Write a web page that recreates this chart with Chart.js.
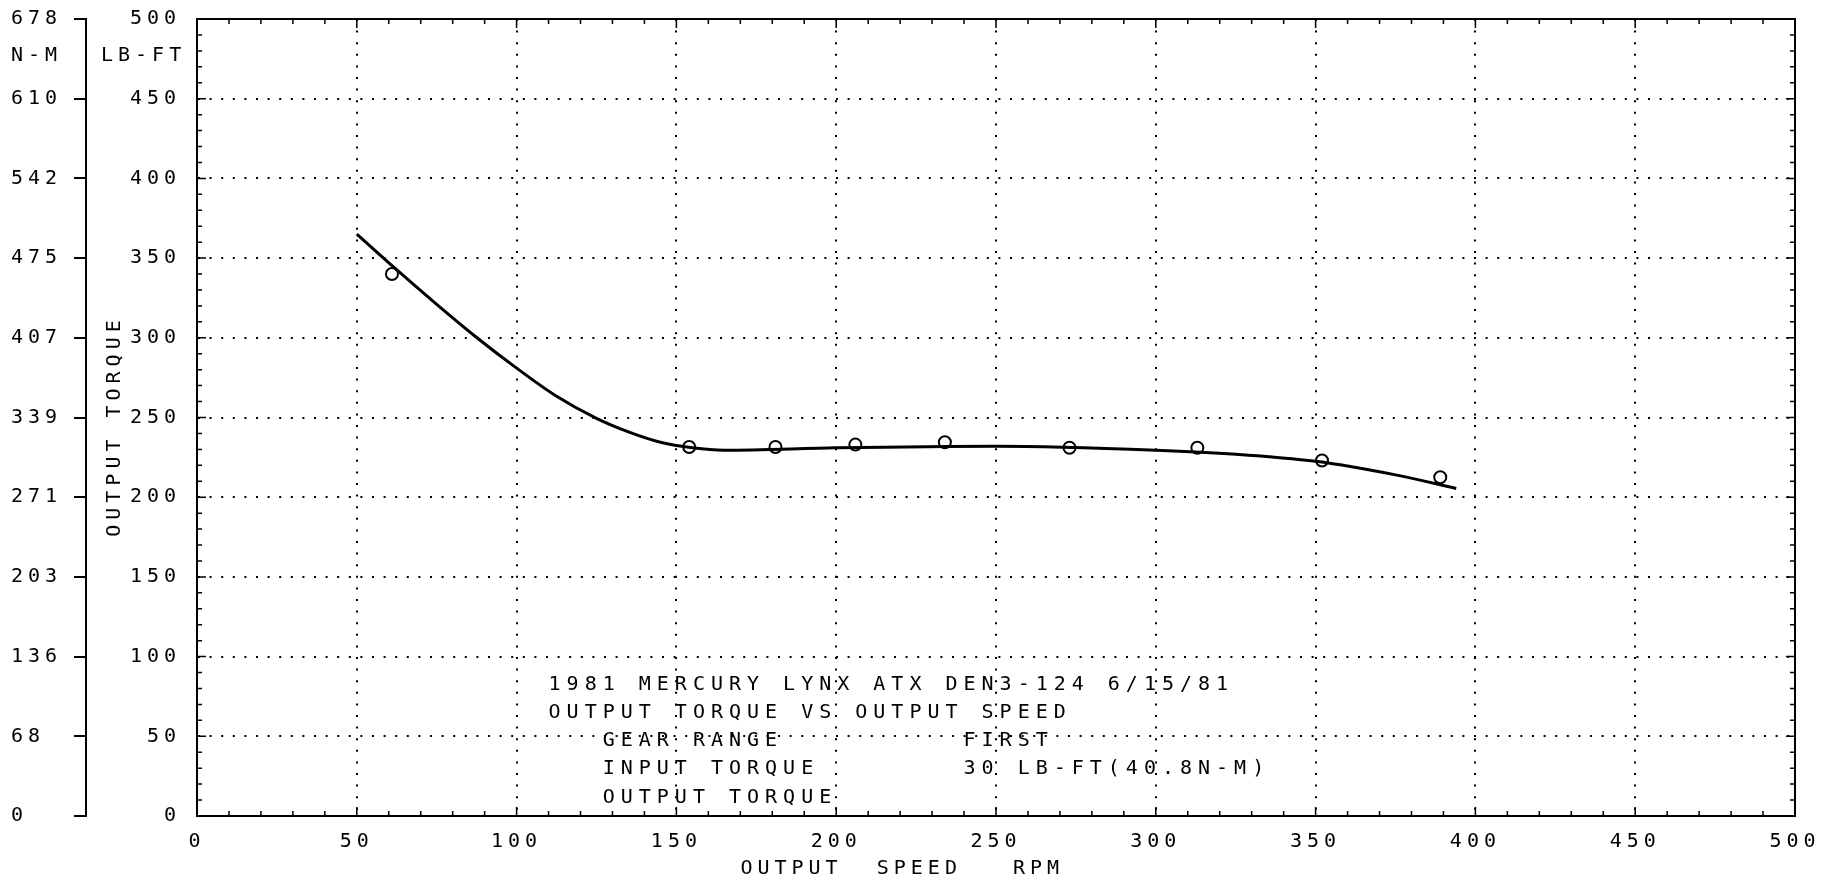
<!DOCTYPE html>
<html>
<head>
<meta charset="utf-8">
<title>Output torque vs output speed</title>
<script src="https://cdn.jsdelivr.net/npm/chart.js@4.4.1/dist/chart.umd.min.js"></script>
<style>
  html, body { margin: 0; padding: 0; background: #fff; }
  #wrap { width: 1837px; height: 883px; }
</style>
</head>
<body>
<div id="wrap"><canvas id="torqueChart" width="1837" height="883"></canvas></div>
<script>
// Measured points (output speed RPM, output torque LB-FT)
const speedRpm = [61, 154, 181, 206, 234, 273, 313, 352, 389];
const torqueLbFt = [340, 231.5, 231.5, 233, 234.5, 231, 231, 223, 212.5];

// Faired curve drawn through the points
const curveRpm = [50, 62, 75, 87, 100, 112, 125, 135, 145, 155, 165, 200, 250, 300, 325, 350, 375, 394];
const curveLbFt = [365, 343.5, 321, 301, 281, 264, 249.5, 241, 234.5, 231, 229.5, 231, 232, 229.5, 227, 222.5, 214, 205.5];

// Tick values / labels
const speedTicks = [0, 50, 100, 150, 200, 250, 300, 350, 400, 450, 500];
const lbFtTicks = [0, 50, 100, 150, 200, 250, 300, 350, 400, 450, 500];
const nmTickLabels = ["0", "68", "136", "203", "271", "339", "407", "475", "542", "610", "678"];

// Text block printed inside the plot
const noteLines = [
  "1981 MERCURY LYNX ATX DEN3-124 6/15/81",
  "OUTPUT TORQUE VS OUTPUT SPEED",
  "   GEAR RANGE          FIRST",
  "   INPUT TORQUE        30 LB-FT(40.8N-M)",
  "   OUTPUT TORQUE"
];

// Plotter style font
const plotFont = { family: '"DejaVu Sans Mono", monospace', size: 20 };

// Dotted grid only on the inner 50-unit lines
function gridColor(ctx) {
  if (!ctx.tick) return "rgba(0,0,0,0)";
  const v = ctx.tick.value;
  return v === 0 || v === 500 ? "rgba(0,0,0,0)" : "#000";
}

// Frame, inward minor ticks, unit captions and the note block
const plotterFrame = {
  id: "plotterFrame",
  beforeLayout(chart) {
    chart.ctx.letterSpacing = "5px";
  },
  beforeDraw(chart) {
    chart.ctx.letterSpacing = "5px";
  },
  afterDraw(chart) {
    const { ctx, chartArea: a, scales } = chart;
    const xs = scales.x;
    const ys = scales.y;
    ctx.save();
    ctx.strokeStyle = "#000";
    ctx.lineWidth = 2;
    ctx.strokeRect(a.left, a.top, a.right - a.left, a.bottom - a.top);

    // minor ticks every 10 units pointing into the plot
    ctx.beginPath();
    for (let v = 10; v < 500; v += 10) {
      const len = v % 50 === 0 ? 9 : 5;
      const px = xs.getPixelForValue(v);
      ctx.moveTo(px, a.bottom);
      ctx.lineTo(px, a.bottom - len);
      ctx.moveTo(px, a.top);
      ctx.lineTo(px, a.top + len);
      const py = ys.getPixelForValue(v);
      ctx.moveTo(a.left, py);
      ctx.lineTo(a.left + len, py);
      ctx.moveTo(a.right, py);
      ctx.lineTo(a.right - len, py);
    }
    ctx.lineWidth = 1.5;
    ctx.stroke();

    // unit captions under the top tick labels
    ctx.fillStyle = "#000";
    ctx.font = '20px "DejaVu Sans Mono", monospace';
    ctx.textBaseline = "middle";
    ctx.textAlign = "left";
    ctx.letterSpacing = "5px";
    const unitY = ys.getPixelForValue(500) + 37;
    ctx.fillText("N-M", scales.y2.left, unitY);
    ctx.fillText("LB-FT", ys.left + 15, unitY);

    // note block
    ctx.letterSpacing = "6px";
    const nx = xs.getPixelForValue(110);
    const ny = ys.getPixelForValue(82.2);
    noteLines.forEach((line, i) => ctx.fillText(line, nx, ny + i * 28.1));
    ctx.restore();
  }
};

new Chart(document.getElementById("torqueChart"), {
  type: "scatter",
  data: {
    datasets: [
      {
        label: "Faired curve",
        data: curveRpm.map((v, i) => ({ x: v, y: curveLbFt[i] })),
        showLine: true,
        borderColor: "#000",
        borderWidth: 3,
        pointRadius: 0,
        cubicInterpolationMode: "monotone",
        fill: false
      },
      {
        label: "Output torque",
        data: speedRpm.map((v, i) => ({ x: v, y: torqueLbFt[i] })),
        showLine: false,
        pointStyle: "circle",
        pointRadius: 6,
        pointBorderWidth: 2,
        borderColor: "#000",
        backgroundColor: "rgba(0,0,0,0)"
      }
    ]
  },
  options: {
    responsive: false,
    animation: false,
    devicePixelRatio: 1,
    layout: { padding: { left: 11, right: 42, top: 19, bottom: 0 } },
    plugins: {
      legend: { display: false },
      tooltip: { enabled: false }
    },
    scales: {
      x: {
        type: "linear",
        position: "bottom",
        min: 0,
        max: 500,
        afterBuildTicks: (s) => { s.ticks = speedTicks.map((v) => ({ value: v })); },
        ticks: { color: "#000", font: plotFont, padding: 14, maxRotation: 0, autoSkip: false },
        grid: { color: gridColor, lineWidth: 2, drawTicks: false },
        border: { display: true, color: "#000", width: 2, dash: [2, 9.6] },
        title: {
          display: true,
          text: "OUTPUT  SPEED   RPM           ",
          color: "#000",
          font: plotFont,
          padding: { top: 0, bottom: 2 }
        },
        afterFit: (s) => { s.height = 67; }
      },
      y: {
        type: "linear",
        position: "left",
        weight: 0,
        min: 0,
        max: 500,
        afterBuildTicks: (s) => { s.ticks = lbFtTicks.map((v) => ({ value: v })); },
        ticks: { color: "#000", font: plotFont, padding: 2 },
        grid: { color: gridColor, lineWidth: 2, drawTicks: true, tickLength: 14, tickColor: "rgba(0,0,0,0)" },
        border: { display: true, color: "#000", width: 2, dash: [2, 9.6] },
        title: {
          display: true,
          text: "OUTPUT TORQUE ",
          color: "#000",
          font: plotFont,
          padding: { top: 17, bottom: 0 }
        },
        afterFit: (s) => { s.width = 111; }
      },
      y2: {
        type: "linear",
        position: "left",
        weight: 1,
        min: 0,
        max: 500,
        afterBuildTicks: (s) => { s.ticks = lbFtTicks.map((v) => ({ value: v })); },
        ticks: {
          color: "#000",
          font: plotFont,
          padding: 4,
          crossAlign: "far",
          callback: (v, i) => nmTickLabels[i]
        },
        grid: { drawOnChartArea: false, drawTicks: true, tickLength: 12, color: "#000", lineWidth: 2 },
        border: { display: true, color: "#000", width: 2 },
        afterFit: (s) => { s.width = 75; }
      }
    }
  },
  plugins: [plotterFrame]
});
</script>
</body>
</html>
